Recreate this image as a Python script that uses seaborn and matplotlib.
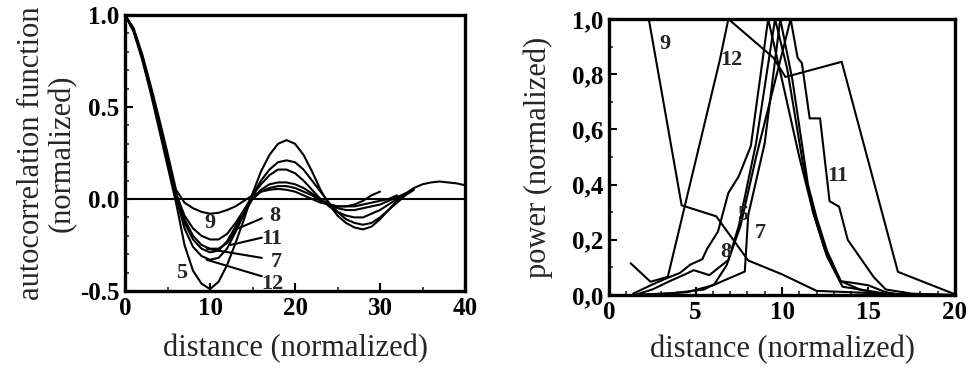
import matplotlib.pyplot as plt
import matplotlib.ticker as mtick
import numpy as np
import pandas as pd
import seaborn as sns

sns.set_theme(style="ticks")  # plain white background, no grid
plt.rcParams['font.family'] = ['Liberation Serif', 'DejaVu Serif']

# ---- left panel: autocorrelation function, sampled at distance 0, 1, 2, ...
acf_5 = [1.0, 0.91, 0.76, 0.58, 0.38, 0.18, -0.02, -0.25, -0.39, -0.46, -0.49,
         -0.45, -0.36, -0.24, -0.11, 0.03, 0.15, 0.24, 0.30, 0.32, 0.30,
         0.24, 0.15, 0.05, -0.03, -0.09, -0.13, -0.155, -0.165, -0.15, -0.11,
         -0.06, -0.01, 0.03, 0.06, 0.08, 0.09, 0.095, 0.09, 0.085, 0.075]
acf_12 = [1.0, 0.92, 0.77, 0.59, 0.40, 0.20, 0.01, -0.16, -0.26, -0.31, -0.33,
          -0.32, -0.27, -0.18, -0.08, 0.02, 0.10, 0.16, 0.20, 0.21, 0.20,
          0.16, 0.10, 0.04, -0.02, -0.07, -0.11, -0.13, -0.14, -0.13, -0.10,
          -0.06, -0.02, 0.02, 0.05]
acf_7 = [1.0, 0.92, 0.77, 0.60, 0.40, 0.21, 0.02, -0.13, -0.22, -0.27, -0.29,
         -0.28, -0.23, -0.15, -0.06, 0.02, 0.08, 0.13, 0.16, 0.16, 0.14,
         0.10, 0.05, 0.0, -0.04, -0.07, -0.09, -0.10, -0.10, -0.08, -0.06,
         -0.03, 0.0, 0.03]
acf_11 = [1.0, 0.92, 0.78, 0.60, 0.41, 0.21, 0.03, -0.11, -0.20, -0.25, -0.27,
          -0.27, -0.24, -0.17, -0.08, 0.0, 0.05, 0.08, 0.09, 0.09, 0.08,
          0.06, 0.03, 0.0, -0.03, -0.05, -0.06, -0.06, -0.05, -0.04, -0.03,
          -0.01, 0.01, 0.03]
acf_8 = [1.0, 0.92, 0.78, 0.61, 0.42, 0.22, 0.03, -0.09, -0.16, -0.20, -0.22,
         -0.22, -0.19, -0.13, -0.06, 0.0, 0.04, 0.06, 0.07, 0.07, 0.06,
         0.04, 0.02, -0.01, -0.03, -0.04, -0.04, -0.03, -0.01, 0.02, 0.04]
acf_9 = [1.0, 0.93, 0.79, 0.62, 0.44, 0.25, 0.05, -0.02, -0.05, -0.07, -0.08,
         -0.075, -0.06, -0.04, -0.01, 0.02, 0.04, 0.05, 0.055, 0.05, 0.04,
         0.02, 0.0, -0.02, -0.03, -0.04, -0.04, -0.04, -0.03, -0.02, -0.01,
         0.0, 0.02]

# label text, label position, end of the leader line on the curve
acf_labels = ['9', '8', '11', '7', '12', '5']
acf_label_x = [10.0, 17.6, 17.3, 17.8, 17.3, 6.7]
acf_label_y = [-0.13, -0.095, -0.215, -0.345, -0.46, -0.40]
acf_leader_x0 = [None, 16.1, 16.1, 16.1, 16.1, None]
acf_leader_y0 = [None, -0.105, -0.21, -0.32, -0.42, None]
acf_leader_x1 = [None, 13.3, 12.4, 9.6, 9.6, None]
acf_leader_y1 = [None, -0.16, -0.25, -0.27, -0.33, None]

# ---- right panel: power spectra (normalized)
pow_9_x = [2.3, 4.2, 6.2, 8.05, 10.0, 12.0, 14.0, 16.0, 18.0, 20.0]
pow_9_y = [1.0, 0.325, 0.285, 0.125, 0.075, 0.015, 0.01, 0.005, 0.002, 0.0]
pow_12_x = [1.25, 2.4, 3.4, 6.4, 6.9, 9.5, 10.2, 13.45, 16.7, 19.9]
pow_12_y = [0.115, 0.048, 0.066, 0.85, 1.0, 0.86, 0.79, 0.845, 0.084, 0.005]
pow_11_x = [1.5, 3.5, 5.5, 6.1, 6.8, 7.6, 8.5, 10.5, 10.9, 11.15, 11.6, 12.2,
            12.75, 13.3, 13.8, 15.3, 16.0, 17.5, 20.0]
pow_11_y = [0.0, 0.005, 0.02, 0.04, 0.108, 0.25, 0.5, 1.0, 0.86, 0.84, 0.64,
            0.64, 0.34, 0.32, 0.20, 0.065, 0.02, 0.005, 0.0]
pow_5_x = [1.4, 2.4, 3.3, 4.1, 4.7, 5.4, 5.65, 6.3, 6.9, 7.5, 8.2, 9.2, 10.0,
           11.0, 11.8, 12.6, 13.5, 14.5, 16.0]
pow_5_y = [0.005, 0.035, 0.06, 0.08, 0.11, 0.13, 0.165, 0.23, 0.37, 0.43,
           0.54, 1.0, 0.78, 0.5, 0.3, 0.14, 0.03, 0.02, 0.0]
pow_7_x = [1.5, 3.0, 4.5, 6.0, 7.85, 8.05, 9.0, 9.9, 10.6, 11.5, 12.0, 12.6,
           13.4, 14.5, 16.5]
pow_7_y = [0.0, 0.005, 0.01, 0.035, 0.085, 0.29, 0.55, 1.0, 0.78, 0.4, 0.28,
           0.16, 0.05, 0.02, 0.0]
pow_8_x = [1.5, 2.5, 3.5, 4.4, 4.9, 5.8, 6.9, 7.5, 8.5, 9.6, 10.3, 11.2, 11.8,
           12.5, 13.4, 14.0, 15.0, 16.0, 17.0]
pow_8_y = [0.0, 0.02, 0.05, 0.075, 0.09, 0.072, 0.127, 0.25, 0.55, 1.0, 0.82,
           0.48, 0.3, 0.16, 0.05, 0.045, 0.035, 0.01, 0.0]

pow_labels = ['9', '12', '11', '5', '7', '8']
pow_label_x = [3.25, 7.1, 13.2, 7.75, 8.75, 6.75]
pow_label_y = [0.91, 0.85, 0.43, 0.29, 0.225, 0.155]

LW = 1.5
TXT = dict(fontsize=16, fontweight='bold', ha='center', va='center')

fig = plt.figure(figsize=(9.73, 3.75), dpi=100)
ax1 = fig.add_axes([0.1285, 0.224, 0.3494, 0.736])
ax2 = fig.add_axes([0.6259, 0.2133, 0.3556, 0.736])

# left panel
for vals in [acf_5, acf_12, acf_7, acf_11, acf_8, acf_9]:
    sns.lineplot(x=np.arange(len(vals)), y=vals, color='black', lw=LW, ax=ax1)
ax1.axhline(0, color='black', lw=LW)
for i, lab in enumerate(acf_labels):
    ax1.text(acf_label_x[i], acf_label_y[i], lab, **TXT)
    if acf_leader_x0[i] is not None:
        ax1.plot([acf_leader_x0[i], acf_leader_x1[i]],
                 [acf_leader_y0[i], acf_leader_y1[i]], color='black', lw=LW)
ax1.set_xlim(0, 40)
ax1.set_ylim(-0.5, 1.0)
ax1.xaxis.set_major_locator(mtick.MultipleLocator(10))
ax1.xaxis.set_minor_locator(mtick.MultipleLocator(5))
ax1.yaxis.set_major_locator(mtick.FixedLocator([-0.5, 0.0, 0.5, 1.0]))
ax1.yaxis.set_minor_locator(mtick.MultipleLocator(0.1))
ax1.yaxis.set_major_formatter(mtick.FormatStrFormatter('%.1f'))
ax1.set_xlabel('distance (normalized)', fontsize=22, labelpad=10)
ax1.set_ylabel('autocorrelation function\n(normalized)', fontsize=22,
               labelpad=2, linespacing=1.1)

# right panel
for xs, ys in [(pow_9_x, pow_9_y), (pow_12_x, pow_12_y), (pow_11_x, pow_11_y),
               (pow_5_x, pow_5_y), (pow_7_x, pow_7_y), (pow_8_x, pow_8_y)]:
    sns.lineplot(x=xs, y=ys, color='black', lw=LW, sort=False, ax=ax2)
for i, lab in enumerate(pow_labels):
    ax2.text(pow_label_x[i], pow_label_y[i], lab, **TXT)
ax2.set_xlim(0, 20)
ax2.set_ylim(0, 1.0)
ax2.xaxis.set_major_locator(mtick.MultipleLocator(5))
ax2.xaxis.set_minor_locator(mtick.MultipleLocator(1))
ax2.yaxis.set_major_locator(mtick.MultipleLocator(0.2))
ax2.yaxis.set_minor_locator(mtick.MultipleLocator(0.1))
ax2.yaxis.set_major_formatter(
    mtick.FuncFormatter(lambda v, p: f'{v:.1f}'.replace('.', ',')))
ax2.set_xlabel('distance (normalized)', fontsize=22, labelpad=8)
ax2.set_ylabel('power (normalized)', fontsize=22, labelpad=14)

for ax in (ax1, ax2):
    for sp in ax.spines.values():
        sp.set_linewidth(2.4)
        sp.set_color('black')
    ax.tick_params(which='major', direction='in', length=6, width=1.5,
                   labelsize=18, colors='black', pad=4)
    ax.tick_params(which='minor', direction='in', length=3, width=1.2)
    for t in ax.get_xticklabels() + ax.get_yticklabels():
        t.set_fontweight('bold')

fig.savefig('out.png', dpi=100)
